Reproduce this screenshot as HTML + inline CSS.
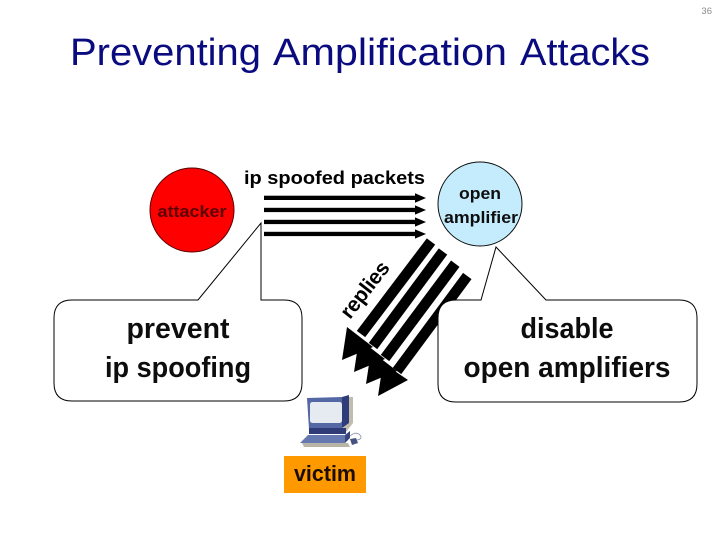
<!DOCTYPE html>
<html><head><meta charset="utf-8"><style>
html,body{margin:0;padding:0;background:#fff}
svg{display:block}
text{font-family:"Liberation Sans",sans-serif}
</style></head><body>
<svg width="720" height="540" viewBox="0 0 720 540" xmlns="http://www.w3.org/2000/svg">
<defs><filter id="b" x="-5%" y="-5%" width="110%" height="110%"><feGaussianBlur stdDeviation="0.35"/></filter></defs>
<rect width="720" height="540" fill="#fff"/>
<text x="712" y="14" font-size="9.5" fill="#8a8a8a" text-anchor="end">36</text>
<g font-size="38" fill="#0b0b80">
<text x="70" y="65" textLength="191" lengthAdjust="spacingAndGlyphs">Preventing</text>
<text x="273" y="65" textLength="234" lengthAdjust="spacingAndGlyphs">Amplification</text>
<text x="520" y="65" textLength="130" lengthAdjust="spacingAndGlyphs">Attacks</text>
</g>

<g filter="url(#b)">
<circle cx="192" cy="210" r="42" fill="#fe0000" stroke="#5a0000" stroke-width="1"/>
<circle cx="480" cy="204" r="42" fill="#c4ecfd" stroke="#111" stroke-width="1"/>
<text x="192" y="217" font-size="17" font-weight="bold" fill="#5c0000" text-anchor="middle" textLength="69" lengthAdjust="spacingAndGlyphs">attacker</text>
<text x="480" y="199" font-size="17" font-weight="bold" fill="#111" text-anchor="middle" textLength="42" lengthAdjust="spacingAndGlyphs">open</text>
<text x="481" y="223" font-size="17" font-weight="bold" fill="#111" text-anchor="middle" textLength="74" lengthAdjust="spacingAndGlyphs">amplifier</text>
<text x="244" y="184" font-size="18" font-weight="bold" fill="#000" textLength="181" lengthAdjust="spacingAndGlyphs">ip spoofed packets</text>

<g fill="#000">
<rect x="264" y="195.7" width="152" height="4.3"/><path d="M415 193.3 L426 198 L415 202.7Z"/>
<rect x="264" y="207.8" width="152" height="4.3"/><path d="M415 205.4 L426 210 L415 214.6Z"/>
<rect x="264" y="219.8" width="152" height="4.3"/><path d="M415 217.4 L426 222 L415 226.6Z"/>
<rect x="264" y="231.8" width="152" height="4.3"/><path d="M415 229.4 L426 234 L415 238.6Z"/>
</g>

<g stroke="#000" stroke-width="10.5" fill="none">
<line x1="431" y1="241.5" x2="361" y2="334"/>
<line x1="443" y1="251.5" x2="373" y2="346"/>
<line x1="455.3" y1="263.7" x2="385" y2="358"/>
<line x1="467.3" y1="276" x2="397" y2="371"/>
</g>
<g fill="#000">
<path d="M342 360 L347 327 L373 347Z"/>
<path d="M354 372 L359 339 L385 359Z"/>
<path d="M366 384 L371 351 L397 371Z"/>
<path d="M378 396 L383 363 L408 380Z"/>
</g>

<text transform="translate(350 320) rotate(-52)" font-size="21" font-weight="bold" fill="#000" textLength="66" lengthAdjust="spacing">replies</text>

<path d="M72 300 H198 L261 223 V300 H284 Q302 300 302 318 V383 Q302 401 284 401 H72 Q54 401 54 383 V318 Q54 300 72 300Z" fill="#fff" stroke="#000" stroke-width="1"/>
<path d="M456 300 H481 L496 247 L546 300 H679 Q697 300 697 318 V384 Q697 402 679 402 H456 Q438 402 438 384 V318 Q438 300 456 300Z" fill="#fff" stroke="#000" stroke-width="1"/>

<text x="178" y="338" font-size="29" font-weight="bold" fill="#111" text-anchor="middle" textLength="103" lengthAdjust="spacingAndGlyphs">prevent</text>
<text x="178" y="377" font-size="29" font-weight="bold" fill="#111" text-anchor="middle" textLength="146" lengthAdjust="spacingAndGlyphs">ip spoofing</text>
<text x="567" y="338" font-size="29" font-weight="bold" fill="#111" text-anchor="middle" textLength="93" lengthAdjust="spacingAndGlyphs">disable</text>
<text x="567" y="377" font-size="29" font-weight="bold" fill="#111" text-anchor="middle" textLength="207" lengthAdjust="spacingAndGlyphs">open amplifiers</text>

<!-- computer -->
<path d="M349 397 H353 V423 L346 432 H342 Z" fill="#c2bcae"/>
<path d="M302 443 H348 L350 447 H304 Z" fill="#b8b4a8"/>
<path d="M342 397 L349 395 V423 L342 428 Z" fill="#2f3c7a"/>
<path d="M307 398 L342 397 V429 H309 Z" fill="#5468a6"/>
<rect x="310" y="402" width="32" height="21" rx="2.5" fill="#e6ebf2"/>
<path d="M309 428 H346 V434 H309 Z" fill="#2e3a76"/>
<path d="M300 443 L308 435 H345 V443 Z" fill="#6678b0"/>
<path d="M345 435 L350 431 V438 L345 443 Z" fill="#39457f"/>
<path d="M350 436 Q356 431 360 435 Q363 439 357 440" fill="none" stroke="#8a94a8" stroke-width="0.8"/>
<path d="M350 439 L356 438 L358 443 L352 445 Z" fill="#46527e"/>

<rect x="284" y="456" width="82" height="37" fill="#ff9900"/>
<text x="325" y="481" font-size="22" fill="#1a1000" font-weight="bold" text-anchor="middle" textLength="62" lengthAdjust="spacingAndGlyphs">victim</text>
</g>
</svg>
</body></html>
